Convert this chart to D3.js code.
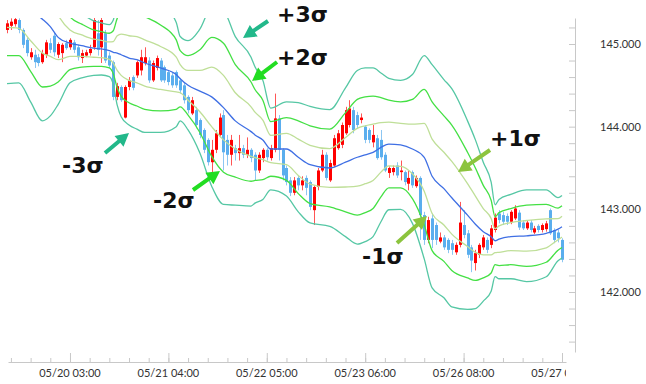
<!DOCTYPE html>
<html><head><meta charset="utf-8">
<script src="https://cdn.jsdelivr.net/npm/d3@7"></script>
<style>html,body{margin:0;padding:0;background:#fff;} svg{display:block;}</style>
</head><body>
<svg id="chart" width="646" height="384"></svg>
<script>
// ---- data ----
const opens = [
145.17,145.22,145.24,145.29,145.17,145.05,144.84,144.87,144.84,144.78,
144.87,145.01,145.10,144.87,144.89,145.01,144.96,145.02,144.96,144.83,
144.86,144.89,144.96,145.13,144.96,145.13,144.86,144.78,144.36,144.48,
144.11,144.48,144.60,144.62,144.68,144.77,144.80,144.56,144.71,144.80,
144.72,144.66,144.62,144.66,144.56,144.50,144.36,144.16,144.20,144.08,
143.96,143.84,143.57,143.72,143.90,144.14,143.84,143.66,143.74,143.68,
143.74,143.66,143.72,143.66,143.47,143.62,143.72,143.62,143.72,144.10,
143.72,143.50,143.35,143.20,143.38,143.29,143.38,143.33,142.99,143.27,
143.47,143.66,143.35,143.53,143.74,143.78,143.92,144.02,144.20,144.14,
144.08,144.00,143.96,143.81,143.86,143.84,143.66,143.44,143.45,143.53,
143.45,143.45,143.31,143.45,143.28,143.38,142.93,142.63,142.89,142.81,
142.61,142.66,142.63,142.59,142.48,142.57,142.81,142.71,142.54,142.35,
142.45,142.54,142.63,142.57,142.75,142.95,142.93,142.92,142.85,142.89,
142.96,142.84,142.77,142.84,142.72,142.80,142.75,142.76,142.99,142.75,
142.72,142.63];
const highs = [
145.29,145.31,145.33,145.31,145.19,145.08,144.95,144.93,144.88,144.93,
145.05,145.07,145.14,145.02,145.01,145.05,145.07,145.05,144.99,144.93,
144.93,144.99,145.51,145.29,145.47,145.17,144.90,144.80,144.53,144.50,
144.50,144.60,144.62,144.80,144.93,144.96,144.84,144.80,144.86,144.83,
144.74,144.68,144.65,144.68,144.59,144.53,144.38,144.36,144.24,144.10,
143.98,143.86,143.84,143.96,144.16,144.20,143.90,143.90,143.78,143.90,
143.78,143.87,143.74,143.69,143.69,143.74,143.74,143.78,144.40,144.14,
143.74,143.53,143.39,143.39,143.41,143.40,143.41,143.35,143.29,143.50,
143.72,143.69,143.60,143.90,143.96,144.05,144.24,144.32,144.24,144.18,
144.16,144.02,143.98,144.02,143.90,143.96,143.69,143.52,143.53,143.57,
143.59,143.47,143.47,143.47,143.41,143.40,142.97,142.91,142.95,142.84,
142.72,142.69,142.65,142.63,142.60,143.09,142.99,142.75,142.57,142.51,
142.59,142.69,142.66,142.81,142.95,142.99,142.97,142.95,142.99,143.05,
142.99,142.87,142.87,142.87,142.80,142.82,142.83,142.86,143.01,142.77,
142.75,142.65];
const lows = [
145.13,145.17,145.21,145.13,144.95,144.85,144.81,144.71,144.73,144.76,
144.83,144.89,144.85,144.83,144.78,144.93,144.93,144.89,144.80,144.77,
144.84,144.86,144.93,144.86,144.77,144.77,144.71,144.32,144.32,144.30,
144.10,144.44,144.44,144.59,144.62,144.74,144.53,144.54,144.68,144.54,
144.53,144.50,144.47,144.47,144.40,144.28,144.16,144.14,143.98,143.86,
143.68,143.53,143.41,143.68,143.87,143.47,143.53,143.53,143.59,143.59,
143.62,143.62,143.57,143.35,143.44,143.57,143.59,143.59,143.69,143.59,
143.35,143.29,143.16,143.17,143.23,143.23,143.17,142.99,142.81,143.23,
143.45,143.35,143.33,143.51,143.72,143.74,143.90,143.99,143.92,143.98,
144.04,143.80,143.80,143.75,143.60,143.60,143.45,143.38,143.41,143.38,
143.35,143.29,143.23,143.26,143.26,142.63,142.57,142.59,142.53,142.57,
142.59,142.51,142.47,142.45,142.45,142.54,142.65,142.41,142.24,142.26,
142.41,142.51,142.47,142.53,142.72,142.83,142.81,142.81,142.82,142.87,
142.75,142.75,142.75,142.72,142.70,142.72,142.72,142.73,142.69,142.59,
142.60,142.36];
const closes = [
145.25,145.27,145.30,145.17,144.99,144.89,144.90,144.78,144.77,144.89,
145.02,144.93,144.90,145.00,144.99,144.95,145.05,144.93,144.84,144.89,
144.90,144.94,145.29,144.93,145.29,144.80,144.74,144.36,144.49,144.32,
144.48,144.56,144.47,144.78,144.84,144.84,144.56,144.77,144.83,144.56,
144.56,144.54,144.50,144.50,144.44,144.32,144.20,144.32,144.02,143.90,
143.72,143.57,143.72,143.92,144.11,143.69,143.66,143.84,143.68,143.74,
143.66,143.72,143.62,143.47,143.66,143.72,143.63,143.74,144.10,143.72,
143.41,143.33,143.20,143.35,143.29,143.35,143.26,143.03,143.27,143.47,
143.66,143.38,143.56,143.86,143.92,144.02,144.20,144.22,143.96,144.02,
144.11,143.84,143.84,143.90,143.62,143.63,143.47,143.50,143.50,143.41,
143.47,143.33,143.38,143.29,143.38,142.93,142.63,142.87,142.63,142.63,
142.66,142.54,142.51,142.51,142.57,142.84,142.69,142.45,142.38,142.47,
142.57,142.66,142.51,142.77,142.90,142.87,142.85,142.85,142.97,143.01,
142.78,142.77,142.84,142.75,142.77,142.75,142.81,142.83,142.71,142.63,
142.65,142.39];

// Bollinger band middle line and sigma, read at these candle indices
const bandIndex = [0,3,6,9,11,13,16,19,22,24,26,27,28,29,31,33,35,39,43,44,
  46,49,52,55,58,62,63,65,67,71,74,77,82,86,89,91,93,95,97,100,
  103,106,108,111,113,117,119,121,123,124,125,128,132,137,140,141];
const bandMid = [145.54,145.52,145.41,145.30,145.21,145.08,145.01,144.98,144.95,144.94,
  144.92,144.90,144.89,144.87,144.83,144.81,144.77,144.71,144.63,144.58,
  144.50,144.43,144.36,144.23,144.07,143.94,143.90,143.84,143.73,143.73,
  143.63,143.54,143.50,143.57,143.63,143.66,143.69,143.75,143.79,143.78,
  143.73,143.63,143.40,143.25,143.14,142.93,142.82,142.73,142.67,142.62,
  142.64,142.67,142.68,142.71,142.76,142.79];
const bandSigma = [0.34,0.33,0.37,0.41,0.36,0.27,0.16,0.13,0.11,0.105,
  0.105,0.13,0.21,0.25,0.27,0.28,0.28,0.26,0.21,0.17,
  0.18,0.25,0.36,0.39,0.34,0.30,0.275,0.24,0.165,0.19,
  0.22,0.235,0.235,0.30,0.35,0.35,0.34,0.30,0.265,0.26,
  0.30,0.41,0.45,0.44,0.44,0.38,0.34,0.28,0.22,0.145,
  0.16,0.17,0.185,0.175,0.127,0.126];

const xTickIndex = [16,41,66,91,116,141];
const xTickLabels = ["05/20 03:00","05/21 04:00","05/22 05:00","05/23 06:00","05/26 08:00","05/27 09:00"];
const yTickValues = [142,143,144,145];
const yTickLabels = ["142.000","143.000","144.000","145.000"];
const bandLevels = [3,2,1,0,-1,-2,-3];
const annotationLabels = ["+3σ","+2σ","+1σ","-1σ","-2σ","-3σ"];

// ---- drawing ----
const svg = d3.select("#chart");
const x = d3.scaleLinear().domain([0, 141]).range([7, 562]);
const y = d3.scaleLinear().domain([142, 145]).range([292, 44]);

const defs = svg.append("defs");
defs.append("clipPath").attr("id","plotClip").append("rect")
  .attr("x",4).attr("y",18).attr("width",563).attr("height",334);
defs.append("clipPath").attr("id","xlabClip").append("rect")
  .attr("x",0).attr("y",362).attr("width",566).attr("height",22);

svg.append("rect").attr("width",646).attr("height",384).attr("fill","#fff");

// axes
const yAxisScale = y.copy().domain([y.invert(352), y.invert(18)]).range([352,18]);
const minorY = d3.range(0,20).map(k => +(141.4 + k*0.2).toFixed(1)).filter(v => v <= 145.21);
const gy = svg.append("g").attr("transform","translate(575,0)")
  .call(d3.axisLeft(yAxisScale).tickValues(minorY).tickSize(6).tickSizeOuter(0).tickFormat(""));
gy.select(".domain").attr("stroke","#c8c8c8");
gy.selectAll(".tick line").attr("stroke","#c8c8c8");
svg.append("g").selectAll("text").data(yTickValues).join("text")
  .attr("x",600).attr("y",d => y(d)+4)
  .attr("font-family","Lato, 'Open Sans', sans-serif").attr("font-size",11)
  .attr("fill","#333").text((d,i) => yTickLabels[i]);

const xAxisScale = x.copy().domain([x.invert(8), x.invert(566)]).range([8,566]);
const minorX = d3.range(1,142,5);
const gx = svg.append("g").attr("transform","translate(0,362)")
  .call(d3.axisTop(xAxisScale).tickValues(minorX).tickSize(4).tickSizeOuter(0).tickFormat(""));
gx.select(".domain").attr("stroke","#c8c8c8");
gx.selectAll(".tick line").attr("stroke","#c8c8c8");
const gx2 = svg.append("g").attr("transform","translate(0,362)")
  .call(d3.axisTop(xAxisScale).tickValues(xTickIndex).tickSize(9).tickFormat(""));
gx2.select(".domain").remove();
gx2.selectAll(".tick line").attr("stroke","#c8c8c8");
svg.append("g").attr("clip-path","url(#xlabClip)").selectAll("text").data(xTickIndex).join("text")
  .attr("x",d => x(d)).attr("y",377).attr("text-anchor","middle")
  .attr("font-family","Lato, 'Open Sans', sans-serif").attr("font-size",11)
  .attr("fill","#333").text((d,i) => xTickLabels[i]);

// plot
const plot = svg.append("g").attr("clip-path","url(#plotClip)");
const candles = opens.map((o,i) => ({i, o, h:highs[i], l:lows[i], c:closes[i]}));
const colUp = "#ff0000", colDown = "#5aaeee";
plot.append("g").selectAll("line").data(candles).join("line")
  .attr("x1",d => Math.round(x(d.i))+0.5).attr("x2",d => Math.round(x(d.i))+0.5)
  .attr("y1",d => y(d.h)).attr("y2",d => y(d.l))
  .attr("stroke",d => d.c >= d.o ? "#ff5555" : "#8cc6f2").attr("stroke-width",1);
plot.append("g").selectAll("rect").data(candles).join("rect")
  .attr("x",d => Math.round(x(d.i))-1).attr("width",3)
  .attr("y",d => y(Math.max(d.o,d.c)))
  .attr("height",d => Math.max(1, Math.abs(y(d.o)-y(d.c))))
  .attr("fill",d => d.c >= d.o ? colUp : colDown);

const bandColors = {3:"#55c7a4",2:"#44e044",1:"#bfdf98",0:"#3f6fe4"};
bandLevels.forEach(k => {
  const line = d3.line()
    .x((d,j) => x(bandIndex[j]))
    .y((d,j) => y(bandMid[j] + k*bandSigma[j]))
    .curve(d3.curveMonotoneX);
  plot.append("path").datum(bandIndex).attr("d",line)
    .attr("fill","none").attr("stroke",bandColors[Math.abs(k)])
    .attr("stroke-width",1.3);
});

// annotations
const arrowColor = {3:"#22b88a",2:"#22dd22",1:"#8cc43e"};
const annoPos = [
  {lvl:3, tx:277, ty:22, a:[268,21,243,38]},
  {lvl:2, tx:277, ty:65, a:[277,62,252,81]},
  {lvl:1, tx:490, ty:146, a:[490,150,458,172]},
  {lvl:-1, tx:362, ty:264, a:[397,243,427,216]},
  {lvl:-2, tx:153, ty:208, a:[193,190,220,171]},
  {lvl:-3, tx:62, ty:173, a:[105,153,129,133]}
];
const ag = svg.append("g");
annoPos.forEach((p,i) => {
  const [x1,y1,x2,y2] = p.a;
  const dx = x2-x1, dy = y2-y1, L = Math.hypot(dx,dy);
  const ux = dx/L, uy = dy/L, nx = -uy, ny = ux;
  const hl = 13, hw = 7, sw = 2;
  const bx = x2 - ux*hl, by = y2 - uy*hl;
  const pts = [
    [x1+nx*sw, y1+ny*sw],[bx+nx*sw, by+ny*sw],[bx+nx*hw, by+ny*hw],[x2,y2],
    [bx-nx*hw, by-ny*hw],[bx-nx*sw, by-ny*sw],[x1-nx*sw, y1-ny*sw]];
  ag.append("path").attr("d","M"+pts.map(q=>q.join(",")).join("L")+"Z")
    .attr("fill",arrowColor[Math.abs(p.lvl)]);
  ag.append("text").attr("x",p.tx).attr("y",p.ty)
    .attr("font-family","'DejaVu Sans', sans-serif").attr("font-weight","bold")
    .attr("font-size",22).attr("fill","#111").text(annotationLabels[i]);
});
</script>
</body></html>
